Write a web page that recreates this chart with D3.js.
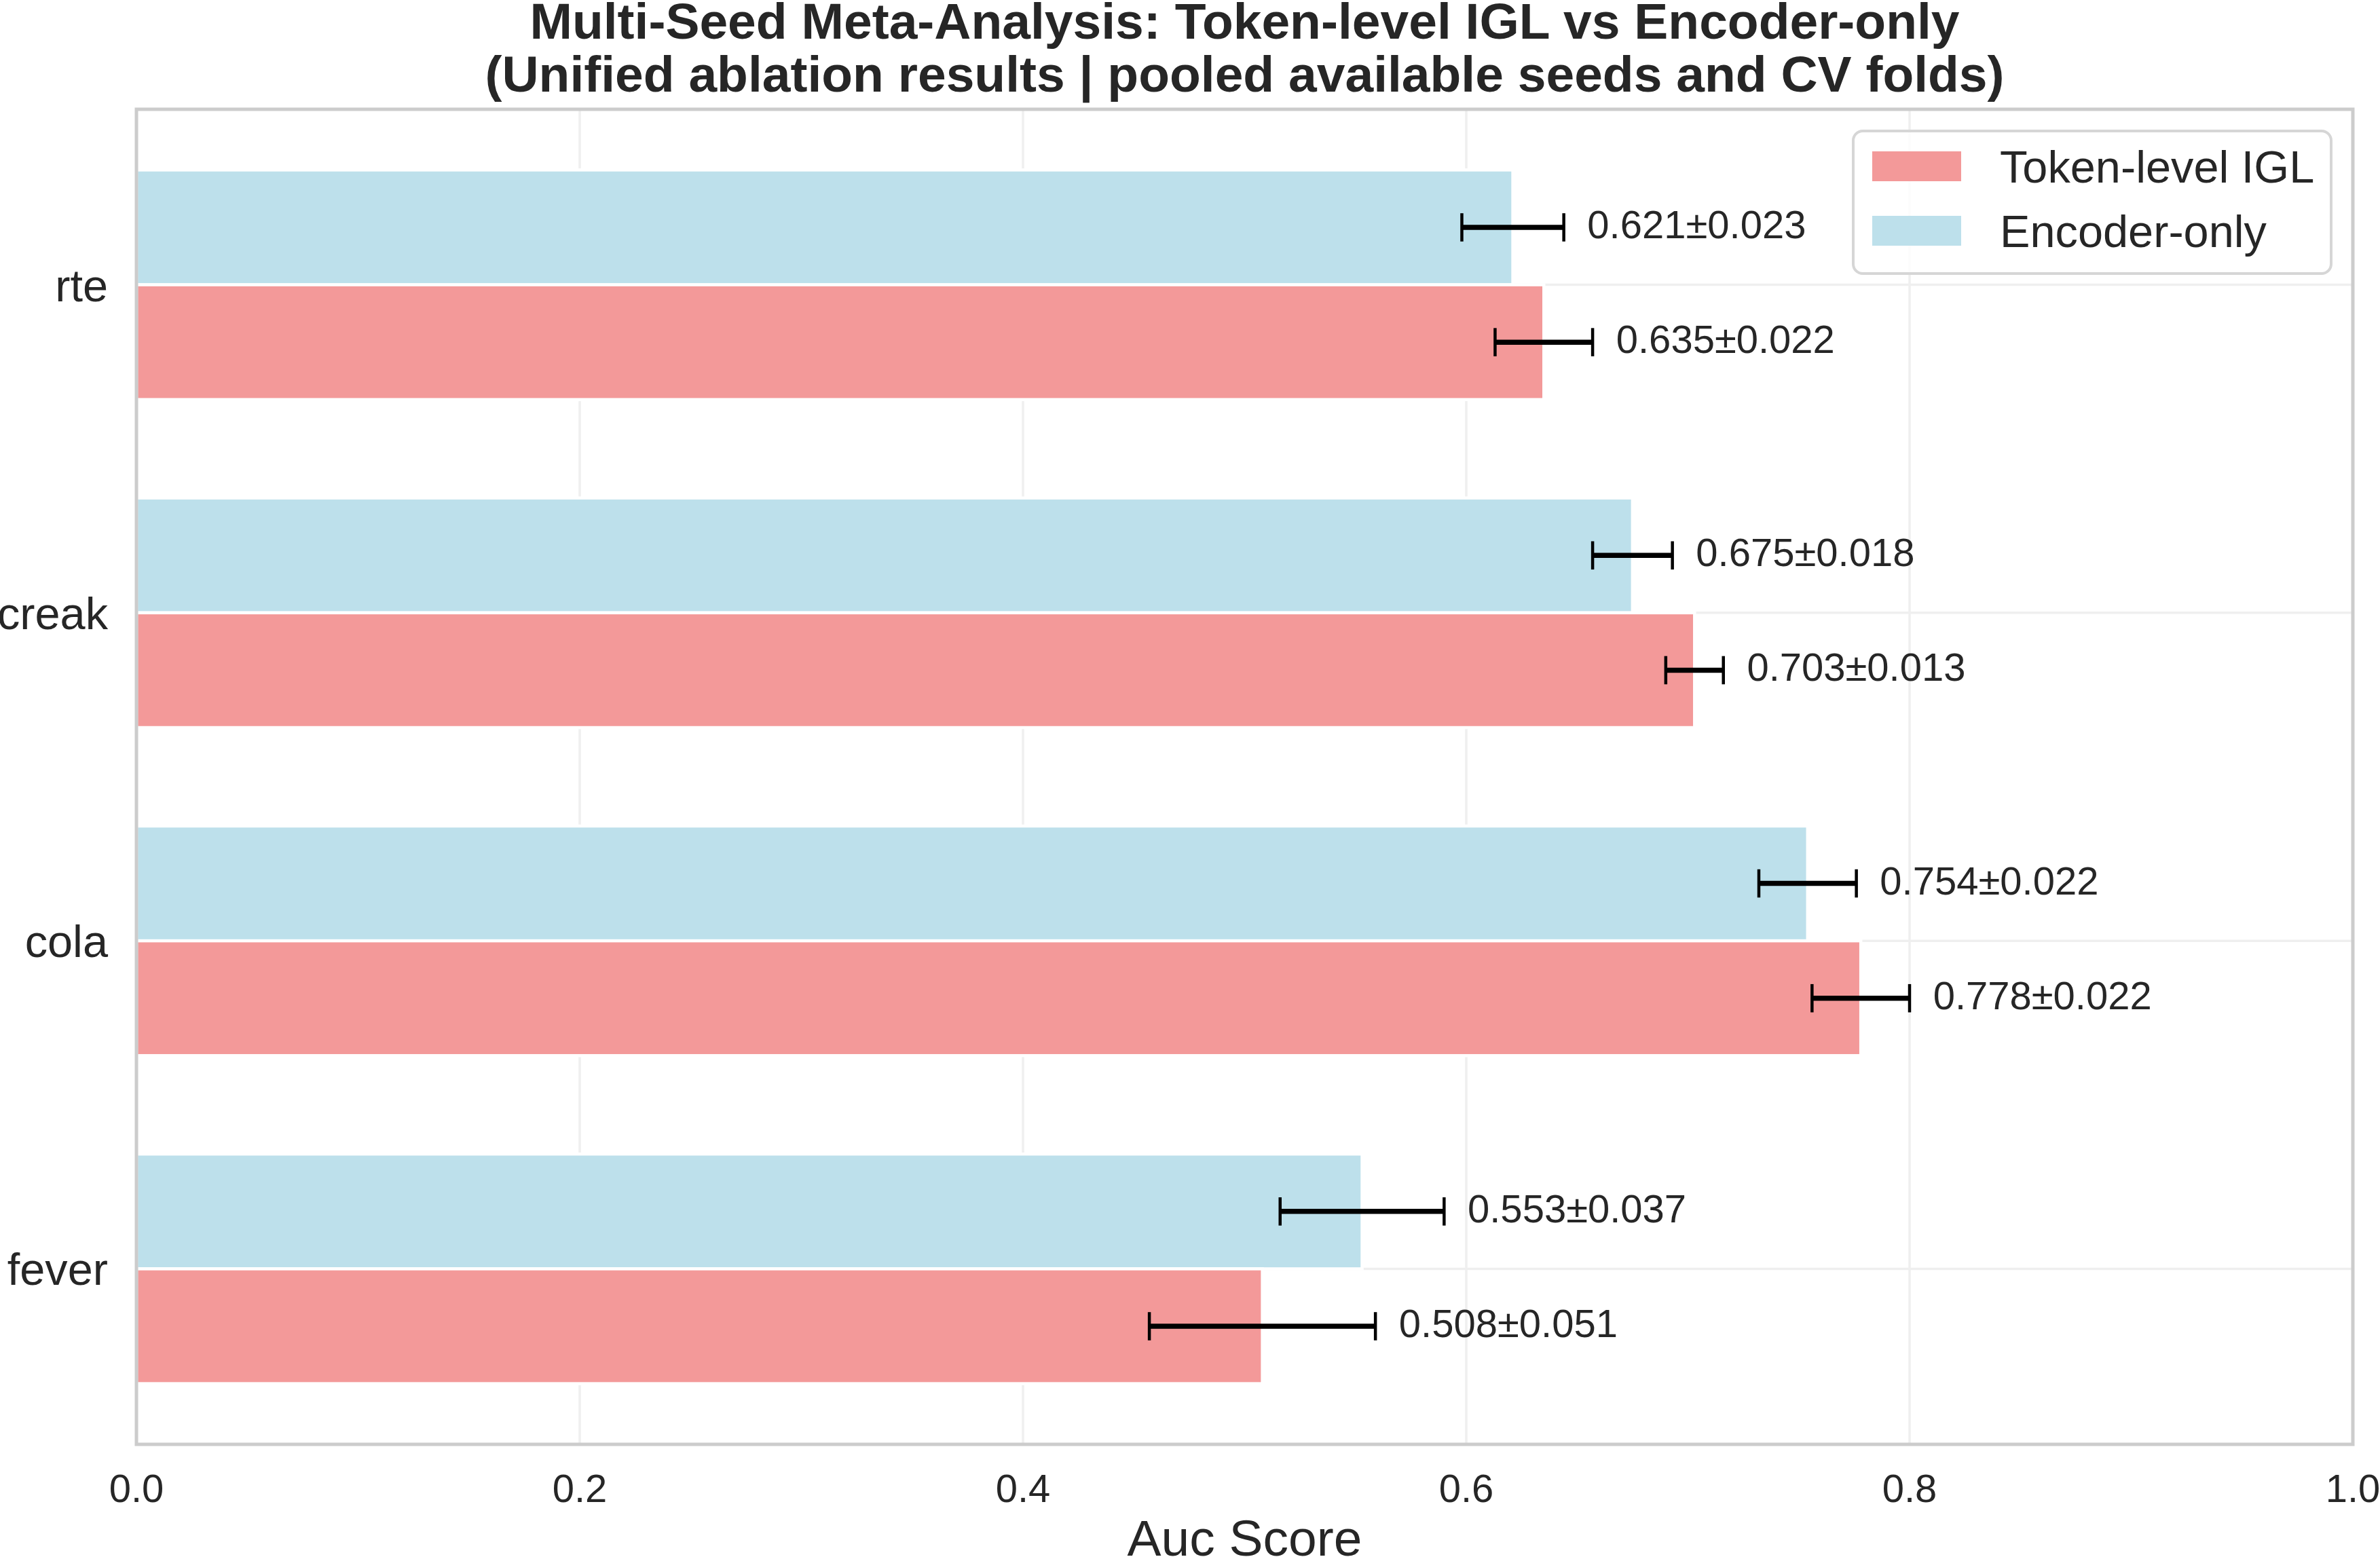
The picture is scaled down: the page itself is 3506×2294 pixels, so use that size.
<!DOCTYPE html>
<html>
<head>
<meta charset="utf-8">
<script src="https://cdn.jsdelivr.net/npm/d3@7"></script>
<style>
  html, body { margin: 0; padding: 0; background: #fff; }
  svg { display: block; font-family: "Liberation Sans", Arial, sans-serif; }
  .tick-lbl { fill: #262626; font-size: 58px; }
  .cat-lbl { fill: #262626; font-size: 66.7px; }
  .ann { fill: #262626; font-size: 58px; }
  .title { fill: #262626; font-size: 75px; font-weight: bold; }
</style>
</head>
<body>
<div id="chart"></div>
<script>
// values
const categories = ["rte", "creak", "cola", "fever"];
const iglMean = [0.635, 0.703, 0.778, 0.508];
const iglStd  = [0.022, 0.013, 0.022, 0.051];
const encMean = [0.621, 0.675, 0.754, 0.553];
const encStd  = [0.023, 0.018, 0.022, 0.037];
const xTicks = [0, 0.2, 0.4, 0.6, 0.8, 1.0];
const seriesNames = ["Token-level IGL", "Encoder-only"];
const titleLines = [
  "Multi-Seed Meta-Analysis: Token-level IGL vs Encoder-only",
  "(Unified ablation results | pooled available seeds and CV folds)"
];

const W = 3506, H = 2294;
const plot = { left: 201, right: 3466, top: 161, bottom: 2128 };
const BAR_H = 0.35;
const RED = "#F39999", BLUE = "#BDE0EB";

const svg = d3.select("#chart").append("svg").attr("width", W).attr("height", H);
svg.append("rect").attr("width", W).attr("height", H).attr("fill", "#fff");

const x = d3.scaleLinear().domain([0, 1]).range([plot.left, plot.right]);
const y = d3.scaleLinear().domain([-0.535, categories.length - 1 + 0.535]).range([plot.top, plot.bottom]);

// grid
const grid = svg.append("g").attr("stroke", "#EFEFEF").attr("stroke-width", 3.5);
grid.selectAll("line.v").data(xTicks).join("line")
  .attr("x1", d => x(d)).attr("x2", d => x(d)).attr("y1", plot.top).attr("y2", plot.bottom);
grid.selectAll("line.h").data(categories).join("line")
  .attr("x1", plot.left).attr("x2", plot.right).attr("y1", (d, i) => y(i)).attr("y2", (d, i) => y(i));

// bars: encoder-only sits above the category line, IGL below
const rows = categories.map((c, i) => ({ c, i,
  bars: [
    { s: 1, mean: encMean[i], std: encStd[i], pos: i - BAR_H / 2, fill: BLUE },
    { s: 0, mean: iglMean[i], std: iglStd[i], pos: i + BAR_H / 2, fill: RED }
  ]
}));
const bars = rows.flatMap(r => r.bars);

svg.append("g").selectAll("rect").data(bars).join("rect")
  .attr("x", x(0))
  .attr("y", d => y(d.pos - BAR_H / 2))
  .attr("width", d => x(d.mean) - x(0))
  .attr("height", d => y(d.pos + BAR_H / 2) - y(d.pos - BAR_H / 2))
  .attr("fill", d => d.fill)
  .attr("stroke", "#fff").attr("stroke-width", 4.5);

// error bars
const cap = 20.8;
const eb = svg.append("g").attr("stroke", "#000");
eb.selectAll("line.e").data(bars).join("line")
  .attr("stroke-width", 7.5)
  .attr("x1", d => x(d.mean - d.std)).attr("x2", d => x(d.mean + d.std))
  .attr("y1", d => y(d.pos)).attr("y2", d => y(d.pos));
eb.selectAll("line.cl").data(bars).join("line")
  .attr("stroke-width", 4.5)
  .attr("x1", d => x(d.mean - d.std)).attr("x2", d => x(d.mean - d.std))
  .attr("y1", d => y(d.pos) - cap).attr("y2", d => y(d.pos) + cap);
eb.selectAll("line.cr").data(bars).join("line")
  .attr("stroke-width", 4.5)
  .attr("x1", d => x(d.mean + d.std)).attr("x2", d => x(d.mean + d.std))
  .attr("y1", d => y(d.pos) - cap).attr("y2", d => y(d.pos) + cap);

// value labels
svg.append("g").selectAll("text").data(bars).join("text")
  .attr("class", "ann")
  .attr("x", d => x(d.mean + d.std + 0.01) + 2)
  .attr("y", d => y(d.pos) + 16)
  .text(d => `${d.mean.toFixed(3)}±${d.std.toFixed(3)}`);

// spines
svg.append("rect")
  .attr("x", plot.left).attr("y", plot.top)
  .attr("width", plot.right - plot.left).attr("height", plot.bottom - plot.top)
  .attr("fill", "none").attr("stroke", "#CCCCCC").attr("stroke-width", 5);

// x tick labels
svg.append("g").selectAll("text").data(xTicks).join("text")
  .attr("class", "tick-lbl")
  .attr("x", d => x(d)).attr("y", 2213)
  .attr("text-anchor", "middle")
  .text(d => d3.format(".1f")(d));

// category labels
svg.append("g").selectAll("text").data(categories).join("text")
  .attr("class", "cat-lbl")
  .attr("x", 159).attr("y", (d, i) => y(i) + 24)
  .attr("text-anchor", "end")
  .text(d => d);

// axis label
svg.append("text").attr("class", "cat-lbl").style("font-size", "75px")
  .attr("x", (plot.left + plot.right) / 2).attr("y", 2292)
  .attr("text-anchor", "middle").text("Auc Score");

// title
svg.append("g").selectAll("text").data(titleLines).join("text")
  .attr("class", "title")
  .attr("x", (plot.left + plot.right) / 2)
  .attr("y", (d, i) => 57 + i * 78)
  .attr("text-anchor", "middle")
  .text(d => d);

// legend
const lg = svg.append("g");
lg.append("rect")
  .attr("x", 2730).attr("y", 193).attr("width", 704).attr("height", 210)
  .attr("rx", 14).attr("fill", "#fff").attr("fill-opacity", 0.8)
  .attr("stroke", "#D6D6D6").attr("stroke-width", 4);
const lgItems = [{ name: seriesNames[0], fill: RED }, { name: seriesNames[1], fill: BLUE }];
lg.selectAll("rect.sw").data(lgItems).join("rect")
  .attr("x", 2758).attr("y", (d, i) => 223 + i * 95)
  .attr("width", 131).attr("height", 44)
  .attr("fill", d => d.fill);
lg.selectAll("text").data(lgItems).join("text")
  .attr("class", "cat-lbl")
  .attr("x", 2946).attr("y", (d, i) => 269 + i * 95)
  .text(d => d.name);
</script>
</body>
</html>
